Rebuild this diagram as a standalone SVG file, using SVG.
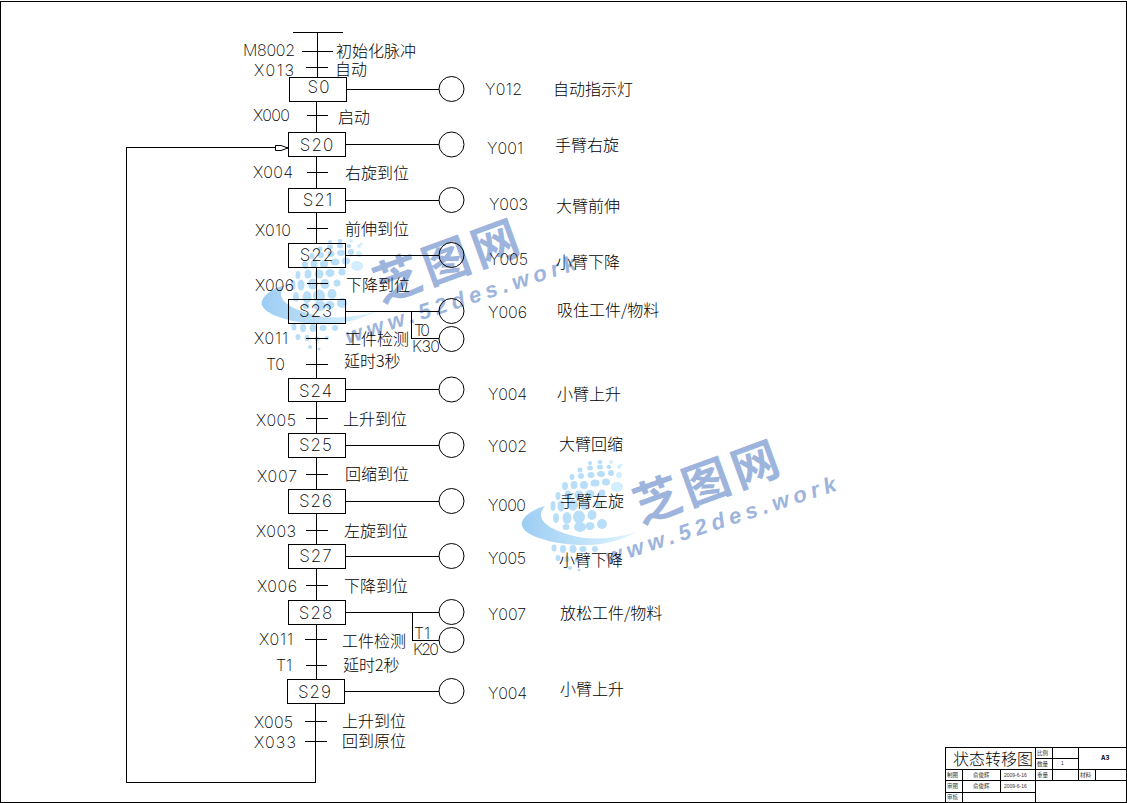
<svg xmlns="http://www.w3.org/2000/svg" xmlns:xlink="http://www.w3.org/1999/xlink" width="1127" height="803" viewBox="0 0 1127 803">
<style>
text{font-family:"Inter","Liberation Sans","Noto Sans CJK SC",sans-serif;font-size:16px;font-weight:200;fill:#000}
.c{font-family:"Noto Sans CJK SC","Noto Sans CJK TC",sans-serif;font-size:16px;font-weight:300}
.s{text-anchor:middle;font-size:17px;letter-spacing:1px}
.t{font-family:"Noto Sans CJK SC",sans-serif;font-size:5.5px;font-weight:400;fill:#333}
.n{font-family:"Liberation Sans",sans-serif;font-size:5px;font-weight:400;fill:#333}
line,path.l,rect.b,circle{fill:none;stroke:#000;stroke-width:1;shape-rendering:crispEdges}
circle{shape-rendering:auto}
.wt{font-family:"Noto Sans CJK SC",sans-serif;font-size:47px;font-weight:700;fill:#9db4dc;letter-spacing:5px}
.wu{font-family:"Liberation Sans",sans-serif;font-size:22px;font-weight:700;font-style:italic;fill:#9db4dc;letter-spacing:5px}
.d{fill:#b8def8}
.e{fill:#d3eeff}
</style>
<defs>
<linearGradient id="sw" x1="0" x2="1" y1="0" y2="0"><stop offset="0" stop-color="#9dcdf3"/><stop offset="1" stop-color="#dff5ff"/></linearGradient>
<g id="wm">
<path d="M545,506C528,511 518,521 523,528C529,538 560,546 590,545C610,544 625,538 637,532C615,539 590,541 570,535C550,529 533,520 545,506Z" fill="url(#sw)"/>
<g class="d">
<ellipse cx="566" cy="527" rx="3.500" ry="3"/><ellipse cx="580" cy="527" rx="6" ry="5"/><ellipse cx="590" cy="526" rx="4.500" ry="4"/><ellipse cx="602" cy="524" rx="5" ry="5"/>
<ellipse cx="556" cy="518" rx="3" ry="5"/><ellipse cx="567" cy="518" rx="4.500" ry="6"/><ellipse cx="579" cy="517" rx="6" ry="6.500"/><ellipse cx="592" cy="515" rx="4.500" ry="5"/>
<ellipse cx="553" cy="506" rx="2.500" ry="5"/><ellipse cx="561" cy="506" rx="3.500" ry="5.500"/><ellipse cx="573" cy="505" rx="5" ry="5.500"/><ellipse cx="585" cy="505" rx="4.500" ry="5"/><ellipse cx="597" cy="504" rx="3.500" ry="3.500"/>
<ellipse cx="558" cy="496" rx="2.500" ry="4"/><ellipse cx="568" cy="495" rx="3.500" ry="4.500"/><ellipse cx="579" cy="495" rx="4.500" ry="4.500"/><ellipse cx="590" cy="494" rx="4.500" ry="4"/><ellipse cx="602" cy="493" rx="3.500" ry="3.500"/>
<ellipse cx="565" cy="486" rx="3" ry="4"/><ellipse cx="574" cy="485" rx="3.500" ry="4"/><ellipse cx="584" cy="485" rx="4" ry="4"/><ellipse cx="595" cy="483" rx="4.500" ry="3.500"/><ellipse cx="606" cy="482" rx="4" ry="3.500"/>
<ellipse cx="572" cy="477" rx="2.500" ry="3"/><ellipse cx="581" cy="476" rx="3" ry="3"/><ellipse cx="591" cy="475" rx="3.500" ry="3"/><ellipse cx="601" cy="474" rx="4" ry="3"/><ellipse cx="611" cy="473" rx="3" ry="3"/>
<ellipse cx="580" cy="470" rx="2.500" ry="2.500"/><ellipse cx="590" cy="468" rx="3" ry="2.500"/><ellipse cx="600" cy="467" rx="3" ry="2.500"/>
<ellipse cx="590" cy="463" rx="2" ry="2"/><ellipse cx="600" cy="462" rx="2.500" ry="2"/><ellipse cx="609" cy="467" rx="2.500" ry="2"/>
<ellipse cx="554" cy="548" rx="2.500" ry="3.500"/><ellipse cx="563" cy="549" rx="3" ry="4"/><ellipse cx="573" cy="549" rx="3.500" ry="4"/><ellipse cx="583" cy="549" rx="3.500" ry="3"/><ellipse cx="595" cy="549" rx="3" ry="3"/>
<ellipse cx="558" cy="558" rx="2.500" ry="3"/><ellipse cx="567" cy="559" rx="2.500" ry="3"/><ellipse cx="577" cy="560" rx="2.500" ry="2.500"/><ellipse cx="587" cy="559" rx="2" ry="2"/>
<ellipse cx="570" cy="568" rx="2" ry="2"/><ellipse cx="579" cy="570" rx="1.500" ry="1.500"/>
</g>
<g class="e">
<ellipse cx="617" cy="487" rx="6" ry="5"/><ellipse cx="619" cy="475" rx="3" ry="3"/><ellipse cx="619" cy="467" rx="2" ry="2"/><ellipse cx="611" cy="462" rx="2" ry="2"/><ellipse cx="621" cy="465" rx="1.500" ry="1.500"/>
</g>
<text class="wt" transform="translate(641,524) rotate(-20)">芝图网</text>
<text class="wu" transform="translate(608,565) rotate(-18)">www.52des.work</text>
</g>
</defs>
<rect width="1127" height="803" fill="#fff"/>
<g id="watermark"><use xlink:href="#wm" href="#wm"/><use xlink:href="#wm" href="#wm" transform="translate(-260,-221)"/></g>
<g id="frame">
<path class="l" d="M0.500,1.500H1126.500V802.500H0.500Z"/>
</g>
<g id="connectors">
<line x1="293" y1="32.500" x2="343" y2="32.500"/>
<line x1="317.500" y1="32" x2="317.500" y2="77"/>
<line x1="302" y1="51.500" x2="333" y2="51.500"/>
<line x1="306" y1="67.500" x2="328" y2="67.500"/>
<line x1="316.500" y1="101" x2="316.500" y2="132"/>
<line x1="307" y1="115.500" x2="328" y2="115.500"/>
<line x1="316.500" y1="156" x2="316.500" y2="188"/>
<line x1="307" y1="172.500" x2="328" y2="172.500"/>
<line x1="316.500" y1="212" x2="316.500" y2="243"/>
<line x1="307" y1="228.500" x2="328" y2="228.500"/>
<line x1="316.500" y1="267" x2="316.500" y2="299"/>
<line x1="307" y1="283.500" x2="328" y2="283.500"/>
<line x1="316.500" y1="323" x2="316.500" y2="378"/>
<line x1="306" y1="338.500" x2="328" y2="338.500"/>
<line x1="306" y1="364.500" x2="328" y2="364.500"/>
<line x1="316.500" y1="401" x2="316.500" y2="433"/>
<line x1="306" y1="418.500" x2="328" y2="418.500"/>
<line x1="316.500" y1="457" x2="316.500" y2="489"/>
<line x1="306" y1="474.500" x2="328" y2="474.500"/>
<line x1="316.500" y1="513" x2="316.500" y2="544"/>
<line x1="306" y1="530.500" x2="328" y2="530.500"/>
<line x1="316.500" y1="568" x2="316.500" y2="600"/>
<line x1="306" y1="585.500" x2="328" y2="585.500"/>
<line x1="316.500" y1="624" x2="316.500" y2="679"/>
<line x1="305" y1="639.500" x2="327" y2="639.500"/>
<line x1="306" y1="665.500" x2="327" y2="665.500"/>
<path class="l" d="M315.500,703V782.500H126.500V147.500H288"/>
<line x1="305" y1="721.500" x2="327" y2="721.500"/>
<line x1="305" y1="741.500" x2="327" y2="741.500"/>
<path d="M275.500,145.500V150.500H281L288,148L281,145.500Z" fill="#fff" stroke="#000" stroke-width="1"/>
<line x1="346" y1="89.500" x2="439" y2="89.500"/>
<line x1="345" y1="144.500" x2="439" y2="144.500"/>
<line x1="345" y1="200.500" x2="439" y2="200.500"/>
<line x1="345" y1="255.500" x2="439" y2="255.500"/>
<line x1="345" y1="311.500" x2="439" y2="311.500"/>
<path class="l" d="M411.500,311V338.500H439"/>
<line x1="345" y1="389.500" x2="439" y2="389.500"/>
<line x1="345" y1="445.500" x2="439" y2="445.500"/>
<line x1="345" y1="501.500" x2="439" y2="501.500"/>
<line x1="345" y1="556.500" x2="439" y2="556.500"/>
<line x1="345" y1="612.500" x2="439" y2="612.500"/>
<path class="l" d="M412.500,612V640.500H439"/>
<line x1="344" y1="691.500" x2="439" y2="691.500"/>
</g>
<g id="top-labels">
<text x="243" y="56" textLength="52">M8002</text><text class="c" x="336" y="57">初始化脉冲</text>
<text x="254" y="76" textLength="40">X013</text><text class="c" x="335" y="75">自动</text>
<text x="253" y="121" textLength="37">X000</text><text class="c" x="338" y="123">启动</text>
</g>
<g id="S0"><rect class="b" x="289.500" y="77.500" width="57" height="24"/><text class="s" x="319" y="93">S0</text></g>
<g id="S20"><rect class="b" x="288.500" y="132.500" width="57" height="24"/><text class="s" x="317" y="151">S20</text></g>
<g id="S21"><rect class="b" x="288.500" y="188.500" width="57" height="24"/><text class="s" x="318" y="206">S21</text></g>
<g id="S22"><rect class="b" x="288.500" y="243.500" width="57" height="24"/><text class="s" x="317" y="261">S22</text></g>
<g id="S23"><rect class="b" x="288.500" y="299.500" width="57" height="24"/><text class="s" x="316" y="317">S23</text></g>
<g id="S24"><rect class="b" x="288.500" y="378.500" width="57" height="23"/><text class="s" x="316" y="397">S24</text></g>
<g id="S25"><rect class="b" x="288.500" y="433.500" width="57" height="24"/><text class="s" x="316" y="451">S25</text></g>
<g id="S26"><rect class="b" x="288.500" y="489.500" width="57" height="24"/><text class="s" x="316" y="507">S26</text></g>
<g id="S27"><rect class="b" x="288.500" y="544.500" width="57" height="24"/><text class="s" x="316" y="562">S27</text></g>
<g id="S28"><rect class="b" x="288.500" y="600.500" width="57" height="24"/><text class="s" x="316" y="619">S28</text></g>
<g id="S29"><rect class="b" x="287.500" y="679.500" width="57" height="24"/><text class="s" x="315" y="698">S29</text></g>
<g id="step-labels">
<text x="253" y="178" textLength="40">X004</text><text class="c" x="345" y="179">右旋到位</text>
<text x="255" y="236" textLength="36">X010</text><text class="c" x="345" y="235">前伸到位</text>
<text x="255" y="291" textLength="39">X006</text><text class="c" x="346" y="291">下降到位</text>
<text x="254" y="344" textLength="34">X011</text><text class="c" x="345" y="345">工件检测</text>
<text x="266" y="370" textLength="19">T0</text><text class="c" x="344" y="367">延时3秒</text>
<text x="256" y="426" textLength="40">X005</text><text class="c" x="343" y="425">上升到位</text>
<text x="257" y="482" textLength="40">X007</text><text class="c" x="345" y="480">回缩到位</text>
<text x="256" y="537" textLength="40">X003</text><text class="c" x="344" y="537">左旋到位</text>
<text x="257" y="592" textLength="40">X006</text><text class="c" x="344" y="592">下降到位</text>
<text x="259" y="645" textLength="34">X011</text><text class="c" x="342" y="647">工件检测</text>
<text x="276" y="671" textLength="16">T1</text><text class="c" x="343" y="671">延时2秒</text>
<text x="254" y="728" textLength="39">X005</text><text class="c" x="342" y="727">上升到位</text>
<text x="254" y="748" textLength="42">X033</text><text class="c" x="342" y="747">回到原位</text>
<text x="414" y="336" textLength="16">T0</text><text x="412" y="352" textLength="28">K30</text>
<text x="414" y="639" textLength="16">T1</text><text x="413" y="655" textLength="26">K20</text>
</g>
<g id="Y012"><circle cx="451.500" cy="89" r="12.500"/><text x="485" y="95" textLength="37">Y012</text><text class="c" x="553" y="95">自动指示灯</text></g>
<g id="Y001"><circle cx="451.500" cy="144.500" r="12.500"/><text x="487" y="154" textLength="36">Y001</text><text class="c" x="555" y="151">手臂右旋</text></g>
<g id="Y003"><circle cx="451.500" cy="200" r="12.500"/><text x="489" y="210" textLength="39">Y003</text><text class="c" x="556" y="212">大臂前伸</text></g>
<g id="Y005a"><circle cx="451.500" cy="255" r="12.500"/><text x="489" y="265" textLength="39">Y005</text><text class="c" x="556" y="268">小臂下降</text></g>
<g id="Y006"><circle cx="451.500" cy="311" r="12.500"/><text x="488" y="318" textLength="39">Y006</text><text class="c" x="557" y="316">吸住工件/物料</text></g>
<g id="T0"><circle cx="451.500" cy="339" r="12.500"/></g>
<g id="Y004a"><circle cx="451.500" cy="389.500" r="12.500"/><text x="488" y="400" textLength="39">Y004</text><text class="c" x="557" y="400">小臂上升</text></g>
<g id="Y002"><circle cx="451.500" cy="445" r="12.500"/><text x="488" y="452" textLength="39">Y002</text><text class="c" x="559" y="450">大臂回缩</text></g>
<g id="Y000"><circle cx="451.500" cy="501" r="12.500"/><text x="488" y="511" textLength="38">Y000</text><text class="c" x="560" y="507">手臂左旋</text></g>
<g id="Y005b"><circle cx="451.500" cy="556" r="12.500"/><text x="488" y="564" textLength="38">Y005</text><text class="c" x="559" y="566">小臂下降</text></g>
<g id="Y007"><circle cx="451.500" cy="612" r="12.500"/><text x="488" y="620" textLength="38">Y007</text><text class="c" x="560" y="619">放松工件/物料</text></g>
<g id="T1"><circle cx="451.500" cy="640" r="12.500"/></g>
<g id="Y004b"><circle cx="451.500" cy="691" r="12.500"/><text x="488" y="699" textLength="39">Y004</text><text class="c" x="560" y="695">小臂上升</text></g>
<g id="title-block">
<path class="l" d="M945.500,802V747.500H1127M1035.500,747V802M1052.500,747V780M1078.500,747V780M1035,758.500H1078M945,769.500H1127M945,780.500H1127M945,792.500H1035M962.500,769V802M1000.500,769V792M1095.500,769V780"/>
<text style="font-family:'Noto Sans CJK SC',sans-serif;font-size:16px;font-weight:300" x="953" y="765">状态转移图</text>
<text class="t" x="1037" y="755">比例</text><text class="t" x="1037" y="766">数量</text><text class="n" x="1061" y="765">1</text>
<text x="1101" y="760" style="font-size:6px;font-weight:700">A3</text>
<text class="t" x="947" y="777">制图</text><text class="t" x="973" y="777">俞俊辉</text><text class="n" x="1004" y="777">2009-6-16</text><text class="t" x="1037" y="777">重量</text><text class="t" x="1080" y="777">材料</text>
<text class="t" x="947" y="788">审图</text><text class="t" x="973" y="788">俞俊辉</text><text class="n" x="1004" y="788">2009-6-16</text>
<text class="t" x="947" y="799">审核</text>
</g>
</svg>
